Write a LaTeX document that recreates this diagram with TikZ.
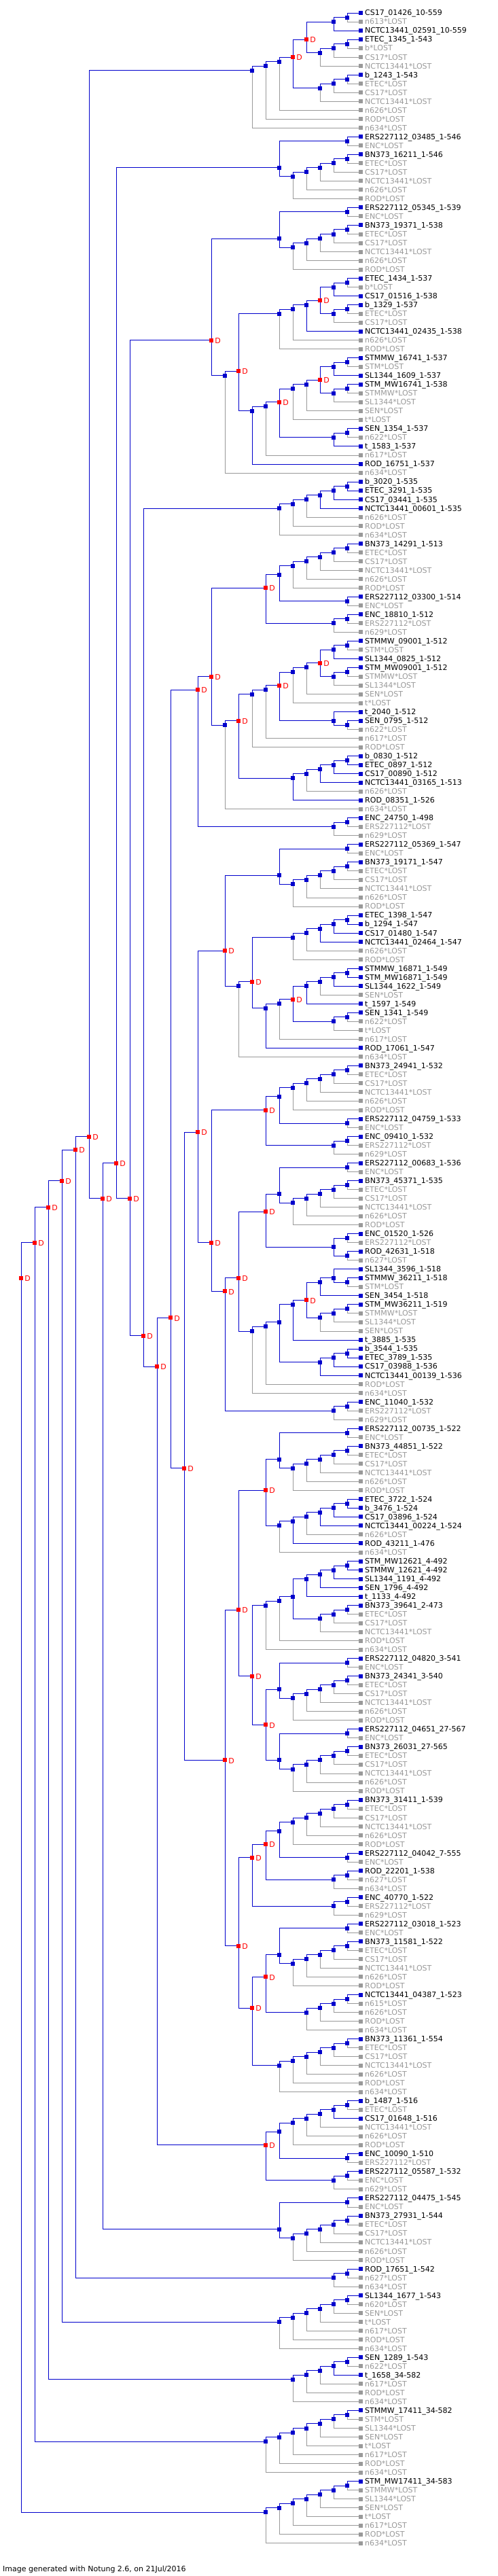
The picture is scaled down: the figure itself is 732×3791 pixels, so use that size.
\documentclass[tikz,border=0pt]{standalone}
\usepackage{fontspec}
\setmainfont{DejaVu Sans}
\definecolor{nblue}{RGB}{0,0,204}
\definecolor{ngray}{RGB}{153,153,153}
\definecolor{nred}{RGB}{255,0,0}
\tikzset{
  geneline/.style={draw=nblue,line width=1pt},
  lostline/.style={draw=ngray,line width=1pt},
  sqbox/.style={rectangle,minimum size=6pt,inner sep=0pt,outer sep=0pt},
  isq/.style={sqbox,fill=nblue},
  dsq/.style={sqbox,fill=nred},
  gsq/.style={sqbox,fill=nblue},
  lsq/.style={sqbox,fill=ngray},
  glab/.style={anchor=base west,inner sep=0pt,font=\fontsize{11}{13}\selectfont,text=black},
  llab/.style={glab,text=ngray},
  dlab/.style={anchor=base west,inner sep=0pt,xshift=5.2pt,yshift=-4.6pt,font=\fontsize{11}{13}\selectfont,text=nred},
  foot/.style={anchor=base west,inner sep=0pt,font=\fontsize{11}{13}\selectfont,text=black}
}
\gdef\sqlist{}
% internal node: name, height, first leaf, last leaf, children, duplication flag
\newcommand\gnode[6]{%
  \edef\tn{#1}%
  \edef\ta{\the\numexpr#3\relax}%
  \edef\tb{\the\numexpr#4\relax}%
  \edef\tc{#5}%
  \coordinate (\tn) at ({531-20*(#2)},{19+13.02*((\ta+\tb)/2-1)});
  \foreach \c in \tc {%
    \ifcsname lost@\c\endcsname
      \draw[lostline] (\tn) |- (\c);
    \else
      \draw[geneline] (\tn) |- (\c);
    \fi}%
  \ifnum#6=1
    \xdef\sqlist{\unexpanded\expandafter{\sqlist}\noexpand\node[dsq] (sq-\tn) at (\tn) {};\noexpand\node[dlab] (dl-\tn) at (\tn) {D};}%
  \else
    \xdef\sqlist{\unexpanded\expandafter{\sqlist}\noexpand\node[isq] (sq-\tn) at (\tn) {};}%
  \fi}
% ladder: name, first leaf, last leaf
\newcommand\gcat[3]{%
  \edef\catS{\the\numexpr#2\relax}%
  \edef\catE{\the\numexpr#3\relax}%
  \edef\catN{\the\numexpr\catE-\catS\relax}%
  \gnode{#11}{1}{\catS}{\catS+1}{L\catS,L\the\numexpr\catS+1\relax}{0}%
  \ifnum\catN>1
    \foreach \k in {2,...,\catN}{%
      \gnode{#1\k}{\k}{\catS}{\catS+\k}{#1\the\numexpr\k-1\relax,L\the\numexpr\catS+\k\relax}{0}}%
  \fi}
% ((s,s+1),ladder(s+2..s+7))
\newcommand\gpata[2]{%
  \gnode{#1a}{1}{#2}{#2+1}{L\the\numexpr#2\relax,L\the\numexpr#2+1\relax}{0}%
  \gcat{#1c}{#2+2}{#2+7}%
  \gnode{#1}{6}{#2}{#2+7}{#1a,#1c5}{0}}
% D( (ladder(s..s+5),(s+6,s+7)), ((s+8,s+9),s+10) )
\newcommand\gpatb[2]{%
  \gcat{#1c}{#2}{#2+5}%
  \gnode{#1a}{1}{#2+6}{#2+7}{L\the\numexpr#2+6\relax,L\the\numexpr#2+7\relax}{0}%
  \gnode{#1b}{6}{#2}{#2+7}{#1c5,#1a}{0}%
  \gnode{#1d}{1}{#2+8}{#2+9}{L\the\numexpr#2+8\relax,L\the\numexpr#2+9\relax}{0}%
  \gnode{#1e}{2}{#2+8}{#2+10}{#1d,L\the\numexpr#2+10\relax}{0}%
  \gnode{#1}{7}{#2}{#2+10}{#1b,#1e}{1}}
\begin{document}
\begin{tikzpicture}[x=1pt,y=-1pt]
\useasboundingbox (0,0) rectangle (732,3791);
\foreach \lab/\k [count=\i] in {
CS17_01426_10-559/g,n613*LOST/l,NCTC13441_02591_10-559/g,ETEC_1345_1-543/g,b*LOST/l,CS17*LOST/l,NCTC13441*LOST/l,
b_1243_1-543/g,ETEC*LOST/l,CS17*LOST/l,NCTC13441*LOST/l,n626*LOST/l,ROD*LOST/l,n634*LOST/l,
ERS227112_03485_1-546/g,ENC*LOST/l,BN373_16211_1-546/g,ETEC*LOST/l,CS17*LOST/l,NCTC13441*LOST/l,n626*LOST/l,ROD*LOST/l,
ERS227112_05345_1-539/g,ENC*LOST/l,BN373_19371_1-538/g,ETEC*LOST/l,CS17*LOST/l,NCTC13441*LOST/l,n626*LOST/l,ROD*LOST/l,
ETEC_1434_1-537/g,b*LOST/l,CS17_01516_1-538/g,b_1329_1-537/g,ETEC*LOST/l,CS17*LOST/l,NCTC13441_02435_1-538/g,n626*LOST/l,ROD*LOST/l,
STMMW_16741_1-537/g,STM*LOST/l,SL1344_1609_1-537/g,STM_MW16741_1-538/g,STMMW*LOST/l,SL1344*LOST/l,SEN*LOST/l,t*LOST/l,
SEN_1354_1-537/g,n622*LOST/l,t_1583_1-537/g,n617*LOST/l,ROD_16751_1-537/g,n634*LOST/l,
b_3020_1-535/g,ETEC_3291_1-535/g,CS17_03441_1-535/g,NCTC13441_00601_1-535/g,n626*LOST/l,ROD*LOST/l,n634*LOST/l,
BN373_14291_1-513/g,ETEC*LOST/l,CS17*LOST/l,NCTC13441*LOST/l,n626*LOST/l,ROD*LOST/l,ERS227112_03300_1-514/g,ENC*LOST/l,
ENC_18810_1-512/g,ERS227112*LOST/l,n629*LOST/l,
STMMW_09001_1-512/g,STM*LOST/l,SL1344_0825_1-512/g,STM_MW09001_1-512/g,STMMW*LOST/l,SL1344*LOST/l,SEN*LOST/l,t*LOST/l,
t_2040_1-512/g,SEN_0795_1-512/g,n622*LOST/l,n617*LOST/l,ROD*LOST/l,
b_0830_1-512/g,ETEC_0897_1-512/g,CS17_00890_1-512/g,NCTC13441_03165_1-513/g,n626*LOST/l,ROD_08351_1-526/g,n634*LOST/l,
ENC_24750_1-498/g,ERS227112*LOST/l,n629*LOST/l,
ERS227112_05369_1-547/g,ENC*LOST/l,BN373_19171_1-547/g,ETEC*LOST/l,CS17*LOST/l,NCTC13441*LOST/l,n626*LOST/l,ROD*LOST/l,
ETEC_1398_1-547/g,b_1294_1-547/g,CS17_01480_1-547/g,NCTC13441_02464_1-547/g,n626*LOST/l,ROD*LOST/l,
STMMW_16871_1-549/g,STM_MW16871_1-549/g,SL1344_1622_1-549/g,SEN*LOST/l,t_1597_1-549/g,SEN_1341_1-549/g,n622*LOST/l,t*LOST/l,
n617*LOST/l,ROD_17061_1-547/g,n634*LOST/l,
BN373_24941_1-532/g,ETEC*LOST/l,CS17*LOST/l,NCTC13441*LOST/l,n626*LOST/l,ROD*LOST/l,ERS227112_04759_1-533/g,ENC*LOST/l,
ENC_09410_1-532/g,ERS227112*LOST/l,n629*LOST/l,
ERS227112_00683_1-536/g,ENC*LOST/l,BN373_45371_1-535/g,ETEC*LOST/l,CS17*LOST/l,NCTC13441*LOST/l,n626*LOST/l,ROD*LOST/l,
ENC_01520_1-526/g,ERS227112*LOST/l,ROD_42631_1-518/g,n627*LOST/l,
SL1344_3596_1-518/g,STMMW_36211_1-518/g,STM*LOST/l,SEN_3454_1-518/g,STM_MW36211_1-519/g,STMMW*LOST/l,SL1344*LOST/l,SEN*LOST/l,
t_3885_1-535/g,b_3544_1-535/g,ETEC_3789_1-535/g,CS17_03988_1-536/g,NCTC13441_00139_1-536/g,ROD*LOST/l,n634*LOST/l,
ENC_11040_1-532/g,ERS227112*LOST/l,n629*LOST/l,
ERS227112_00735_1-522/g,ENC*LOST/l,BN373_44851_1-522/g,ETEC*LOST/l,CS17*LOST/l,NCTC13441*LOST/l,n626*LOST/l,ROD*LOST/l,
ETEC_3722_1-524/g,b_3476_1-524/g,CS17_03896_1-524/g,NCTC13441_00224_1-524/g,n626*LOST/l,ROD_43211_1-476/g,n634*LOST/l,
STM_MW12621_4-492/g,STMMW_12621_4-492/g,SL1344_1191_4-492/g,SEN_1796_4-492/g,t_1133_4-492/g,
BN373_39641_2-473/g,ETEC*LOST/l,CS17*LOST/l,NCTC13441*LOST/l,ROD*LOST/l,n634*LOST/l,
ERS227112_04820_3-541/g,ENC*LOST/l,BN373_24341_3-540/g,ETEC*LOST/l,CS17*LOST/l,NCTC13441*LOST/l,n626*LOST/l,ROD*LOST/l,
ERS227112_04651_27-567/g,ENC*LOST/l,BN373_26031_27-565/g,ETEC*LOST/l,CS17*LOST/l,NCTC13441*LOST/l,n626*LOST/l,ROD*LOST/l,
BN373_31411_1-539/g,ETEC*LOST/l,CS17*LOST/l,NCTC13441*LOST/l,n626*LOST/l,ROD*LOST/l,ERS227112_04042_7-555/g,ENC*LOST/l,
ROD_22201_1-538/g,n627*LOST/l,n634*LOST/l,
ENC_40770_1-522/g,ERS227112*LOST/l,n629*LOST/l,
ERS227112_03018_1-523/g,ENC*LOST/l,BN373_11581_1-522/g,ETEC*LOST/l,CS17*LOST/l,NCTC13441*LOST/l,n626*LOST/l,ROD*LOST/l,
NCTC13441_04387_1-523/g,n615*LOST/l,n626*LOST/l,ROD*LOST/l,n634*LOST/l,
BN373_11361_1-554/g,ETEC*LOST/l,CS17*LOST/l,NCTC13441*LOST/l,n626*LOST/l,ROD*LOST/l,n634*LOST/l,
b_1487_1-516/g,ETEC*LOST/l,CS17_01648_1-516/g,NCTC13441*LOST/l,n626*LOST/l,ROD*LOST/l,ENC_10090_1-510/g,ERS227112*LOST/l,
ERS227112_05587_1-532/g,ENC*LOST/l,n629*LOST/l,
ERS227112_04475_1-545/g,ENC*LOST/l,BN373_27931_1-544/g,ETEC*LOST/l,CS17*LOST/l,NCTC13441*LOST/l,n626*LOST/l,ROD*LOST/l,
ROD_17651_1-542/g,n627*LOST/l,n634*LOST/l,
SL1344_1677_1-543/g,n620*LOST/l,SEN*LOST/l,t*LOST/l,n617*LOST/l,ROD*LOST/l,n634*LOST/l,
SEN_1289_1-543/g,n622*LOST/l,t_1658_34-582/g,n617*LOST/l,ROD*LOST/l,n634*LOST/l,
STMMW_17411_34-582/g,STM*LOST/l,SL1344*LOST/l,SEN*LOST/l,t*LOST/l,n617*LOST/l,ROD*LOST/l,n634*LOST/l,
STM_MW17411_34-583/g,STMMW*LOST/l,SL1344*LOST/l,SEN*LOST/l,t*LOST/l,n617*LOST/l,ROD*LOST/l,n634*LOST/l}{%
  \coordinate (L\i) at (531,{19+13.02*(\i-1)});
  \if l\k
    \expandafter\gdef\csname lost@L\i\endcsname{}%
    \node[llab] (lab\i) at (537,{19+13.02*(\i-1)+3.9}) {\detokenize\expandafter{\lab}};
  \else
    \node[glab] (lab\i) at (537,{19+13.02*(\i-1)+3.9}) {\detokenize\expandafter{\lab}};
  \fi}
% ---- T1
\gnode{a1}{1}{1}{2}{L1,L2}{0}
\gnode{a2}{2}{1}{3}{a1,L3}{0}
\gcat{ab}{4}{7}
\gnode{a3}{4}{1}{7}{a2,ab3}{1}
\gcat{ac}{8}{11}
\gnode{a4}{5}{1}{11}{a3,ac3}{1}
\gnode{a5}{6}{1}{12}{a4,L12}{0}
\gnode{a6}{7}{1}{13}{a5,L13}{0}
\gnode{a}{8}{1}{14}{a6,L14}{0}
% ---- T2, T3
\gpata{b}{15}
\gpata{c}{23}
% ---- T4/T5
\gnode{d1}{1}{31}{32}{L31,L32}{0}
\gnode{d2}{2}{31}{33}{d1,L33}{0}
\gcat{dc}{34}{36}
\gnode{d3}{3}{31}{36}{d2,dc2}{1}
\gnode{d4}{4}{31}{37}{d3,L37}{0}
\gnode{d5}{5}{31}{38}{d4,L38}{0}
\gnode{d6}{6}{31}{39}{d5,L39}{0}
\gnode{d7}{1}{40}{41}{L40,L41}{0}
\gnode{d8}{2}{40}{42}{d7,L42}{0}
\gcat{de}{43}{45}
\gnode{d9}{3}{40}{45}{d8,de2}{1}
\gnode{d10}{4}{40}{46}{d9,L46}{0}
\gnode{d11}{5}{40}{47}{d10,L47}{0}
\gcat{df}{48}{50}
\gnode{d12}{6}{40}{50}{d11,df2}{1}
\gnode{d13}{7}{40}{51}{d12,L51}{0}
\gnode{d14}{8}{40}{52}{d13,L52}{0}
\gnode{d15}{9}{31}{52}{d6,d14}{1}
\gnode{d}{10}{31}{53}{d15,L53}{0}
% ---- T6, T7
\gcat{e}{54}{60}
\gpatb{f}{61}
% ---- T8
\gnode{g1}{1}{72}{73}{L72,L73}{0}
\gnode{g2}{2}{72}{74}{g1,L74}{0}
\gcat{gc}{75}{77}
\gnode{g3}{3}{72}{77}{g2,gc2}{1}
\gnode{g4}{4}{72}{78}{g3,L78}{0}
\gnode{g5}{5}{72}{79}{g4,L79}{0}
\gnode{g6}{1}{81}{82}{L81,L82}{0}
\gnode{g7}{2}{80}{82}{L80,g6}{0}
\gnode{g8}{6}{72}{82}{g5,g7}{1}
\gnode{g9}{7}{72}{83}{g8,L83}{0}
\gnode{g10}{8}{72}{84}{g9,L84}{0}
\gcat{gm}{85}{90}
\gnode{g11}{9}{72}{90}{g10,gm5}{1}
\gnode{g}{10}{72}{91}{g11,L91}{0}
% ---- T9, T10
\gnode{h1}{1}{92}{93}{L92,L93}{0}
\gnode{h}{2}{92}{94}{h1,L94}{0}
\gpata{i}{95}
% ---- T11
\gcat{ja}{103}{108}
\gcat{jb}{109}{113}
\gnode{j1}{1}{114}{115}{L114,L115}{0}
\gnode{j2}{2}{114}{116}{j1,L116}{0}
\gnode{j3}{5}{109}{116}{jb4,j2}{1}
\gnode{j4}{6}{109}{117}{j3,L117}{0}
\gnode{j5}{7}{109}{118}{j4,L118}{0}
\gnode{j6}{8}{103}{118}{ja5,j5}{1}
\gnode{j}{9}{103}{119}{j6,L119}{0}
% ---- T12
\gpatb{k}{120}
% ---- T13
\gpata{ma}{131}
\gnode{m1}{1}{139}{140}{L139,L140}{0}
\gnode{m2}{1}{141}{142}{L141,L142}{0}
\gnode{m3}{2}{139}{142}{m1,m2}{0}
\gnode{m4}{7}{131}{142}{ma,m3}{1}
\gnode{m5}{1}{144}{145}{L144,L145}{0}
\gnode{m6}{2}{143}{145}{L143,m5}{0}
\gnode{m7}{3}{143}{146}{m6,L146}{0}
\gcat{mi}{147}{150}
\gnode{m8}{4}{143}{150}{m7,mi3}{1}
\gnode{m9}{5}{143}{151}{m8,L151}{0}
\gcat{ml}{152}{155}
\gnode{m10}{6}{143}{155}{m9,ml3}{0}
\gnode{m11}{7}{143}{156}{m10,L156}{0}
\gnode{m12}{8}{143}{157}{m11,L157}{0}
\gnode{m}{9}{131}{157}{m4,m12}{1}
% ---- T14
\gnode{n1}{1}{158}{159}{L158,L159}{0}
\gnode{n}{2}{158}{160}{n1,L160}{0}
% ---- T15
\gpata{oa}{161}
\gcat{ob}{169}{175}
\gnode{o1}{7}{161}{175}{oa,ob6}{1}
\gcat{od}{176}{180}
\gcat{oe}{181}{184}
\gnode{o2}{5}{176}{184}{od4,oe3}{0}
\gnode{o3}{6}{176}{185}{o2,L185}{0}
\gnode{o4}{7}{176}{186}{o3,L186}{0}
\gpata{oi}{187}
\gpata{oj}{195}
\gnode{o5}{7}{187}{202}{oi,oj}{1}
\gnode{o6}{8}{176}{202}{o4,o5}{1}
\gnode{o}{9}{161}{202}{o1,o6}{1}
% ---- T16
\gpatb{pa}{203}
\gnode{p1}{1}{214}{215}{L214,L215}{0}
\gnode{p2}{2}{214}{216}{p1,L216}{0}
\gnode{p3}{8}{203}{216}{pa,p2}{1}
\gpata{pb}{217}
\gcat{pk}{225}{229}
\gnode{p4}{7}{217}{229}{pb,pk4}{1}
\gcat{pm}{230}{236}
\gnode{p5}{8}{217}{236}{p4,pm6}{1}
\gnode{p}{9}{203}{236}{p3,p5}{1}
% ---- T17 .. T24
\gcat{qa}{237}{242}
\gnode{q1}{1}{243}{244}{L243,L244}{0}
\gnode{q}{6}{237}{244}{qa5,q1}{0}
\gnode{r1}{1}{245}{246}{L245,L246}{0}
\gnode{r}{2}{245}{247}{r1,L247}{0}
\gpata{s}{248}
\gnode{u1}{1}{256}{257}{L256,L257}{0}
\gnode{u}{2}{256}{258}{u1,L258}{0}
\gcat{v}{259}{265}
\gcat{w}{266}{271}
\gcat{x}{272}{279}
\gcat{y}{280}{287}
% ---- deep structure
\gnode{Za}{11}{23}{53}{c,d}{1}
\gnode{Zb}{11}{61}{91}{f,g}{1}
\gnode{Zc}{12}{61}{94}{Zb,h}{1}
\gnode{Zd}{10}{95}{119}{i,j}{1}
\gnode{Ze}{10}{131}{160}{m,n}{1}
\gnode{Zf}{11}{120}{160}{k,Ze}{1}
\gnode{Zg}{12}{95}{160}{Zd,Zf}{1}
\gnode{Y1}{10}{161}{236}{o,p}{1}
\gnode{Zh}{13}{95}{236}{Zg,Y1}{1}
\gnode{Zi}{14}{61}{236}{Zc,Zh}{1}
\gnode{Y2}{7}{237}{247}{q,r}{1}
\gnode{Zj}{15}{61}{247}{Zi,Y2}{1}
\gnode{Zk}{16}{54}{247}{e6,Zj}{1}
\gnode{Zl}{17}{23}{247}{Za,Zk}{1}
\gnode{Zm}{18}{15}{247}{b,Zl}{1}
\gnode{Zn}{19}{15}{255}{Zm,s}{1}
\gnode{Zo}{20}{1}{255}{a,Zn}{1}
\gnode{Zp}{21}{1}{258}{Zo,u}{1}
\gnode{Zq}{22}{1}{265}{Zp,v6}{1}
\gnode{Zr}{23}{1}{271}{Zq,w5}{1}
\gnode{Zs}{24}{1}{279}{Zr,x7}{1}
\gnode{Zt}{25}{1}{287}{Zs,y7}{1}
% ---- squares on top of the connectors
\sqlist
\foreach \i in {1,...,287}{%
  \ifcsname lost@L\i\endcsname
    \node[lsq] (sq-L\i) at (L\i) {};
  \else
    \node[gsq] (sq-L\i) at (L\i) {};
  \fi}
\node[foot] (footer) at (4,3784) {Image generated with Notung 2.6, on 21Jul/2016};
\end{tikzpicture}
\end{document}
